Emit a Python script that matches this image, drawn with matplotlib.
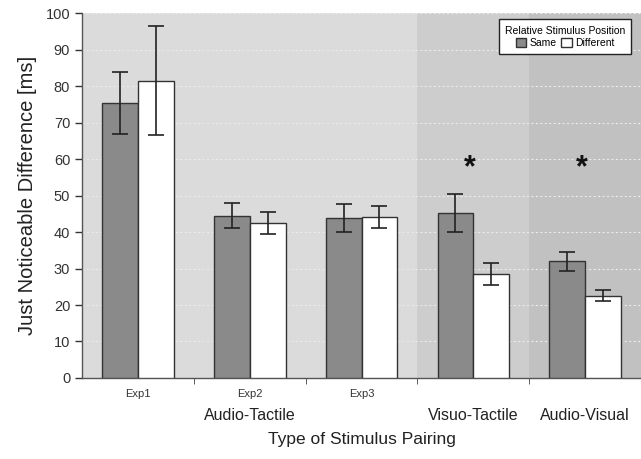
import numpy as np
import matplotlib
matplotlib.use("Agg")
from matplotlib import pyplot as plt
from matplotlib.patches import Patch

plt.rcParams['font.family'] = ['Liberation Sans', 'DejaVu Sans']

experiments = ["Exp1", "Exp2", "Exp3", "", ""]
pairings = ["", "Audio-Tactile", "", "Visuo-Tactile", "Audio-Visual"]
same = [75.3, 44.5, 43.8, 45.2, 32.0]
same_err = [8.5, 3.5, 3.8, 5.2, 2.6]
different = [81.5, 42.5, 44.0, 28.5, 22.6]
different_err = [15.0, 3.0, 3.0, 3.0, 1.4]
significant = [False, False, False, True, True]

fig = plt.figure(figsize=(6.41, 4.59), dpi=100)
ax = fig.add_axes([0.128, 0.1765, 0.872, 0.795])

x = np.arange(len(same))
w = 0.32

# background shading per pairing type
ax.axvspan(-0.5, 2.5, color="#dbdbdb", zorder=0, lw=0)
ax.axvspan(2.5, 3.5, color="#cdcdcd", zorder=0, lw=0)
ax.axvspan(3.5, 4.5, color="#c1c1c1", zorder=0, lw=0)

ax.yaxis.grid(True, color="#eaeaea", linestyle=(0, (2, 2)), lw=0.8, zorder=1)
ax.set_axisbelow(True)

ekw = dict(ecolor="#222222", elinewidth=1.2, capsize=5.5, capthick=1.2)
ax.bar(x - w / 2, same, w, color="#8a8a8a", edgecolor="#333333", lw=1.0,
       yerr=same_err, error_kw=ekw, zorder=3, label="Same")
ax.bar(x + w / 2, different, w, color="white", edgecolor="#333333", lw=1.0,
       yerr=different_err, error_kw=ekw, zorder=3, label="Different")

for i, s in enumerate(significant):
    if s:
        ax.text(x[i] - 0.03, 57.5, "*", ha="center", va="center", fontsize=22,
                fontweight="bold", color="#111111", zorder=4)

ax.set_xlim(-0.5, 4.5)
ax.set_ylim(0, 100)
ax.set_yticks(range(0, 101, 10))
ax.tick_params(axis="y", direction="out", length=5, labelsize=10.5,
               colors="#333333", width=1)
ax.set_xticks(x)
ax.set_xticklabels(experiments, fontsize=8, color="#333333")
ax.tick_params(axis="x", which="major", length=0, pad=8)
ax.set_xticks(np.arange(0.5, 4.6, 1.0), minor=True)
ax.tick_params(axis="x", which="minor", direction="out", length=4,
               color="#444444")

for i, p in enumerate(pairings):
    if p:
        ax.text(x[i], -10.2, p, ha="center", va="center", fontsize=11.5,
                color="#222222")

ax.set_xlabel("Type of Stimulus Pairing", fontsize=12.5, color="#222222",
              labelpad=24)
ax.set_ylabel("Just Noticeable Difference [ms]", fontsize=14.5,
              color="#222222", labelpad=6)

for s in ["top", "right"]:
    ax.spines[s].set_visible(False)
for s in ["left", "bottom"]:
    ax.spines[s].set_color("#555555")
    ax.spines[s].set_linewidth(1.0)

handles = [Patch(facecolor="#8a8a8a", edgecolor="#333333"),
           Patch(facecolor="white", edgecolor="#333333")]
leg = ax.legend(handles, ["Same", "Different"], ncol=2, loc="upper right",
                bbox_to_anchor=(0.992, 0.997), title="Relative Stimulus Position",
                fontsize=7.5, title_fontsize=7.5, handlelength=1.0,
                handleheight=1.0, handletextpad=0.3, columnspacing=0.5,
                fancybox=False, framealpha=1, borderpad=0.6,
                labelspacing=0.2)
leg.get_frame().set_edgecolor("#222222")
leg.get_frame().set_linewidth(1.0)

fig.savefig("out.png", dpi=100)
